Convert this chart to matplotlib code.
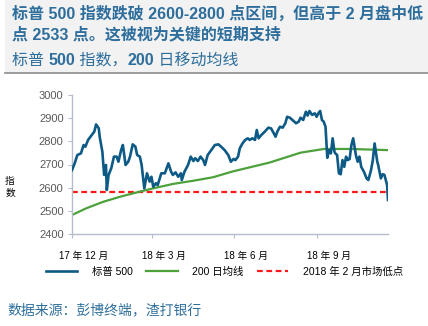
import matplotlib
matplotlib.use('Agg')
import matplotlib.pyplot as plt
import matplotlib.transforms as mtransforms
from matplotlib.patches import Rectangle
from matplotlib.lines import Line2D
import pandas as pd

plt.rcParams['font.family'] = ['Liberation Sans', 'Noto Sans CJK SC']

# S&P 500 close
sp_dates = ['2017-12-01', '2017-12-04', '2017-12-07', '2017-12-11', '2017-12-14', '2017-12-16',
            '2017-12-19', '2017-12-23', '2017-12-26', '2017-12-28', '2017-12-31', '2018-01-01',
            '2018-01-04', '2018-01-06', '2018-01-08', '2018-01-09', '2018-01-11', '2018-01-14',
            '2018-01-17', '2018-01-20', '2018-01-22', '2018-01-25', '2018-01-27', '2018-01-30',
            '2018-02-02', '2018-02-04', '2018-02-07', '2018-02-10', '2018-02-12', '2018-02-15',
            '2018-02-17', '2018-02-20', '2018-02-23', '2018-02-26', '2018-02-28', '2018-03-02',
            '2018-03-05', '2018-03-07', '2018-03-11', '2018-03-15', '2018-03-19', '2018-03-22',
            '2018-03-24', '2018-03-27', '2018-03-30', '2018-04-02', '2018-04-03', '2018-04-06',
            '2018-04-10', '2018-04-13', '2018-04-16', '2018-04-18', '2018-04-21', '2018-04-24',
            '2018-04-27', '2018-04-29', '2018-05-02', '2018-05-06', '2018-05-10', '2018-05-14',
            '2018-05-17', '2018-05-21', '2018-05-25', '2018-05-28', '2018-05-31', '2018-06-02',
            '2018-06-05', '2018-06-07', '2018-06-10', '2018-06-13', '2018-06-16', '2018-06-18',
            '2018-06-21', '2018-06-24', '2018-06-26', '2018-06-28', '2018-07-01', '2018-07-05',
            '2018-07-09', '2018-07-12', '2018-07-15', '2018-07-17', '2018-07-19', '2018-07-22',
            '2018-07-25', '2018-07-28', '2018-07-30', '2018-08-02', '2018-08-05', '2018-08-09',
            '2018-08-12', '2018-08-14', '2018-08-17', '2018-08-20', '2018-08-22', '2018-08-24',
            '2018-08-27', '2018-08-30', '2018-09-01', '2018-09-03', '2018-09-05', '2018-09-07',
            '2018-09-09', '2018-09-11', '2018-09-13', '2018-09-15', '2018-09-17', '2018-09-19',
            '2018-09-21', '2018-09-22', '2018-09-24', '2018-09-26', '2018-09-28', '2018-09-30',
            '2018-10-02', '2018-10-04', '2018-10-06', '2018-10-08', '2018-10-10', '2018-10-12',
            '2018-10-15', '2018-10-17', '2018-10-19', '2018-10-21', '2018-10-24', '2018-10-27',
            '2018-10-29', '2018-11-01', '2018-11-03', '2018-11-05', '2018-11-08', '2018-11-09',
            '2018-11-12', '2018-11-14', '2018-11-16', '2018-11-19', '2018-11-20']
sp500 = [2676, 2705, 2741, 2748, 2784, 2777,
         2806, 2827, 2842, 2873, 2856, 2820,
         2755, 2655, 2698, 2590, 2655, 2684,
         2734, 2734, 2712, 2762, 2784, 2698,
         2712, 2734, 2787, 2777, 2741, 2734,
         2698, 2597, 2662, 2626, 2647, 2604,
         2619, 2611, 2662, 2662, 2705, 2669,
         2655, 2666, 2647, 2662, 2633, 2669,
         2698, 2734, 2715, 2727, 2715, 2734,
         2719, 2698, 2741, 2762, 2784, 2787,
         2777, 2762, 2741, 2712, 2724, 2719,
         2734, 2770, 2791, 2806, 2813, 2806,
         2813, 2806, 2849, 2813, 2827, 2842,
         2859, 2856, 2835, 2820, 2842, 2863,
         2859, 2878, 2906, 2902, 2892, 2878,
         2885, 2902, 2892, 2928, 2911, 2931,
         2914, 2921, 2906, 2921, 2931, 2892,
         2885, 2863, 2729, 2762, 2748, 2813,
         2755, 2748, 2741, 2662, 2658, 2719,
         2690, 2734, 2719, 2724, 2784, 2813,
         2741, 2712, 2734, 2690, 2669, 2640,
         2633, 2676, 2719, 2791, 2712, 2698,
         2640, 2658, 2655, 2611, 2547]

# 200-day moving average
ma_dates = ['2017-12-01', '2017-12-17', '2018-01-05', '2018-01-24', '2018-02-15', '2018-03-02',
            '2018-03-24', '2018-04-16', '2018-05-08', '2018-05-30', '2018-07-10', '2018-08-14',
            '2018-09-09', '2018-10-10', '2018-11-20']
ma200 = [2482, 2511, 2539, 2561, 2583, 2597,
         2616, 2630, 2645, 2670, 2708, 2751,
         2767, 2767, 2762]

feb_low = 2581

tick_dates = ['2017-12-01', '2018-03-01', '2018-06-01', '2018-09-01']
tick_labels = ['17 年 12 月', '18 年 3 月', '18 年 6 月', '18 年 9 月']

title_color = '#2E6E9C'
W, H = 428, 326

fig = plt.figure(figsize=(W / 100, H / 100), dpi=100)

# header band
fig.patches.append(Rectangle((5 / W, 1 - 73 / H), 1, 73 / H, transform=fig.transFigure,
                             facecolor='#F2F2F2', edgecolor='none', zorder=0))
fig.add_artist(Line2D([5 / W, 1], [1 - 73 / H] * 2, color='#8C8C8C', lw=1.2))

fig.text(12 / W, 1 - 14 / H, '标普 500 指数跌破 2600-2800 点区间，但高于 2 月盘中低',
         fontsize=11.5, weight='bold', color=title_color, va='center')
fig.text(12 / W, 1 - 34 / H, '点 2533 点。这被视为关键的短期支持',
         fontsize=11.5, weight='bold', color=title_color, va='center')

# subtitle: digits bold, rest regular, laid out piece by piece
parts = [('标普 ', 'normal'), ('500', 'bold'), (' 指数，', 'normal'),
         ('200', 'bold'), (' 日移动均线', 'normal')]
r = fig.canvas.get_renderer()
xpos = 12
for s, w in parts:
    t = fig.text(xpos / W, 1 - 65 / H, s, fontsize=11.5, weight=w, color=title_color,
                 va='baseline', ha='left')
    xpos = t.get_window_extent(r).x1

ax = fig.add_axes([72 / W, 1 - 234 / H, 316 / W, 139 / H])
ax.plot(pd.to_datetime(sp_dates), sp500, color='#0E5A86', lw=1.9, label='标普 500', zorder=3)
ax.plot(pd.to_datetime(ma_dates), ma200, color='#4DA13B', lw=1.6, label='200 日均线', zorder=2)
ax.axhline(feb_low, color='#FF1A1A', lw=1.6, ls=(0, (2.6, 1.6)), label='2018 年 2 月市场低点', zorder=1)

ax.set_xlim(pd.Timestamp(sp_dates[0]), pd.Timestamp(sp_dates[-1]))
ax.set_ylim(2400, 3000)
ax.set_yticks(range(2400, 3001, 100))
ax.set_xticks(pd.to_datetime(tick_dates))
ax.set_xticklabels(tick_labels)
for sp in ['top', 'right']:
    ax.spines[sp].set_visible(False)
for sp in ['left', 'bottom']:
    ax.spines[sp].set_color('#B3BDCC')
    ax.spines[sp].set_linewidth(1.0)
ax.tick_params(axis='y', length=3, color='#B3BDCC', labelcolor='#595959', labelsize=8, pad=3)
ax.tick_params(axis='x', length=3, color='#B3BDCC', labelcolor='black', labelsize=7, pad=9)
off = mtransforms.ScaledTranslation(0.12, 0, fig.dpi_scale_trans)
for lab in ax.get_xticklabels():
    lab.set_transform(lab.get_transform() + off)

fig.text(10 / W, 1 - 187 / H, '指\n数', fontsize=7, ha='center', va='center', linespacing=1.2)

fig.legend(loc='center', bbox_to_anchor=(0.525, 1 - 272 / H), ncol=3, frameon=False,
           fontsize=7.5, handlelength=3.0, handletextpad=1.4, columnspacing=1.3)

fig.text(7 / W, 1 - 310 / H, '数据来源：彭博终端，渣打银行', fontsize=10, style='italic',
         color=title_color, va='center')

fig.savefig('out.png', dpi=100)
